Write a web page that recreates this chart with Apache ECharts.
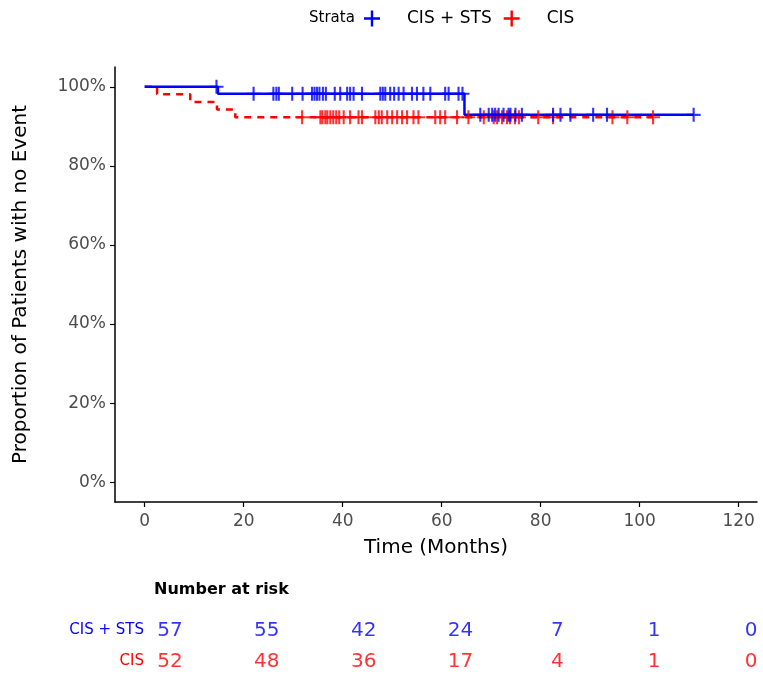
<!DOCTYPE html>
<html>
<head>
<meta charset="utf-8">
<script src="https://cdn.jsdelivr.net/npm/echarts@6/dist/echarts.min.js"></script>
<style>
  html, body { margin: 0; background: #fff; }
  #chart { width: 763px; height: 684px; }
</style>
</head>
<body>
<div id="chart"></div>
<script>
const strata = ['CIS + STS', 'CIS'];

// KM steps: event time (months) and survival (%) right after it
const stsEventTimes = [14.8, 64.6];
const stsSurvival = [98.25, 92.9];
const stsEnd = 110.9;
const stsCensor = [14.5, 22.0, 26.0, 26.6, 27.1, 29.8, 31.9, 33.8, 34.3, 34.8, 35.3, 36.0, 36.6, 38.4,
  39.5, 40.9, 41.5, 42.2, 43.9, 47.6, 48.1, 48.6, 49.6, 50.4, 51.3, 52.3, 54.0, 55.0, 56.3, 57.7,
  60.7, 61.4, 63.4, 64.2, 67.8, 69.5, 70.2, 70.8, 71.5, 72.5, 73.5, 73.9, 74.9, 76.2, 82.5, 84.0,
  86.0, 90.6, 93.4, 110.9];

const cisEventTimes = [2.5, 9.2, 14.6, 18.3];
const cisSurvival = [98.08, 96.15, 94.23, 92.31];
const cisEnd = 102.7;
const cisCensor = [31.8, 35.5, 35.9, 36.5, 36.9, 37.5, 38.1, 38.7, 39.3, 40.2, 41.5, 43.2, 43.9,
  46.6, 47.3, 47.9, 49.0, 50.0, 51.0, 52.0, 53.0, 54.3, 55.3, 58.7, 59.7, 60.7, 63.1, 65.4, 68.5,
  70.5, 71.2, 72.2, 73.2, 73.8, 74.8, 75.6, 79.5, 82.5, 94.5, 97.5, 102.7];

const xTicks = [0, 20, 40, 60, 80, 100, 120];
const yTicks = [0, 20, 40, 60, 80, 100];

const riskTimes = [0, 20, 40, 60, 80, 100, 120];
const stsAtRisk = [57, 55, 42, 24, 7, 1, 0];
const cisAtRisk = [52, 48, 36, 17, 4, 1, 0];

const BLUE = '#0000ff';
const RED = '#ff0000';
const FONT = 'DejaVu Sans';
const plus = 'path://M0,4.25h10v1.5h-10z M4.25,0h1.5v10h-1.5z';

function steps(times, surv, end) {
  const d = [[0, 100]];
  times.forEach((t, i) => d.push([t, surv[i]]));
  d.push([end, surv[surv.length - 1]]);
  return d;
}

function levelAt(times, surv, t) {
  let s = 100;
  times.forEach((e, i) => { if (e <= t) s = surv[i]; });
  return s;
}

function censors(times, surv, cens) {
  return cens.map(c => [c, levelAt(times, surv, c)]);
}

const chart = echarts.init(document.getElementById('chart'));

chart.setOption({
  animation: false,
  textStyle: { fontFamily: FONT },
  title: [
    { text: 'Strata', left: 304, top: 6, textStyle: { fontSize: 15, fontWeight: 'normal', color: '#000', fontFamily: FONT } },
    { text: 'Number at risk', left: 149, top: 577, textStyle: { fontSize: 16, fontWeight: 'bold', color: '#000', fontFamily: FONT } }
  ],
  legend: {
    left: 359,
    top: 5,
    itemWidth: 28,
    itemHeight: 16,
    itemGap: 12,
    textStyle: { fontSize: 17, color: '#000', fontFamily: FONT, padding: [0, 0, 0, 16] },
    data: [
      { name: strata[0], icon: plus, itemStyle: { color: BLUE } },
      { name: strata[1], icon: plus, itemStyle: { color: RED } }
    ]
  },
  grid: [
    { left: 115, top: 67, right: 6, bottom: 182 },
    { left: 170, top: 615, right: 12, bottom: 7 }
  ],
  xAxis: [
    {
      gridIndex: 0,
      type: 'value',
      min: -6,
      max: 123.7,
      name: 'Time (Months)',
      nameLocation: 'middle',
      nameGap: 36,
      nameTextStyle: { fontSize: 20, color: '#000', fontFamily: FONT },
      splitLine: { show: false },
      axisLine: { onZero: false, lineStyle: { color: '#000', width: 1.5 } },
      axisTick: { length: 5, lineStyle: { color: '#000', width: 1.2 }, customValues: xTicks },
      axisLabel: { fontSize: 17, color: '#4d4d4d', margin: 11, customValues: xTicks }
    },
    {
      gridIndex: 1,
      type: 'value',
      min: 0,
      max: 120,
      show: false
    }
  ],
  yAxis: [
    {
      gridIndex: 0,
      type: 'value',
      min: -5,
      max: 105,
      name: 'Proportion of Patients with no Event',
      nameLocation: 'middle',
      nameGap: 84,
      nameTextStyle: { fontSize: 20, color: '#000', fontFamily: FONT },
      splitLine: { show: false },
      axisLine: { show: true, onZero: false, lineStyle: { color: '#000', width: 1.5 } },
      axisTick: { show: true, length: 5, lineStyle: { color: '#000', width: 1.2 }, customValues: yTicks },
      axisLabel: { fontSize: 17, color: '#4d4d4d', margin: 9, formatter: '{value}%', customValues: yTicks }
    },
    {
      gridIndex: 1,
      type: 'category',
      inverse: true,
      data: strata,
      axisLine: { show: false },
      axisTick: { show: false },
      splitLine: { show: false },
      axisLabel: {
        fontSize: 15,
        margin: 26,
        color: v => (v === strata[0] ? BLUE : RED)
      }
    }
  ],
  series: [
    {
      name: strata[1],
      type: 'line',
      step: 'end',
      symbol: 'none',
      z: 2,
      lineStyle: { color: RED, width: 2.5, type: [7, 6] },
      itemStyle: { color: RED },
      data: steps(cisEventTimes, cisSurvival, cisEnd)
    },
    {
      name: strata[0],
      type: 'line',
      step: 'end',
      symbol: 'none',
      z: 3,
      lineStyle: { color: BLUE, width: 2.5 },
      itemStyle: { color: BLUE },
      data: steps(stsEventTimes, stsSurvival, stsEnd)
    },
    {
      name: 'cis-censor',
      type: 'scatter',
      symbol: plus,
      symbolSize: 14,
      z: 4,
      itemStyle: { color: RED },
      data: censors(cisEventTimes, cisSurvival, cisCensor)
    },
    {
      name: 'sts-censor',
      type: 'scatter',
      symbol: plus,
      symbolSize: 14,
      z: 5,
      itemStyle: { color: BLUE },
      data: censors(stsEventTimes, stsSurvival, stsCensor)
    },
    {
      name: 'risk-sts',
      type: 'scatter',
      xAxisIndex: 1,
      yAxisIndex: 1,
      symbolSize: 0,
      label: { show: true, position: 'inside', fontSize: 20, color: BLUE, fontFamily: FONT, formatter: p => p.value[2] },
      data: riskTimes.map((t, i) => [t, strata[0], stsAtRisk[i]])
    },
    {
      name: 'risk-cis',
      type: 'scatter',
      xAxisIndex: 1,
      yAxisIndex: 1,
      symbolSize: 0,
      label: { show: true, position: 'inside', fontSize: 20, color: RED, fontFamily: FONT, formatter: p => p.value[2] },
      data: riskTimes.map((t, i) => [t, strata[1], cisAtRisk[i]])
    }
  ]
});
</script>
</body>
</html>
